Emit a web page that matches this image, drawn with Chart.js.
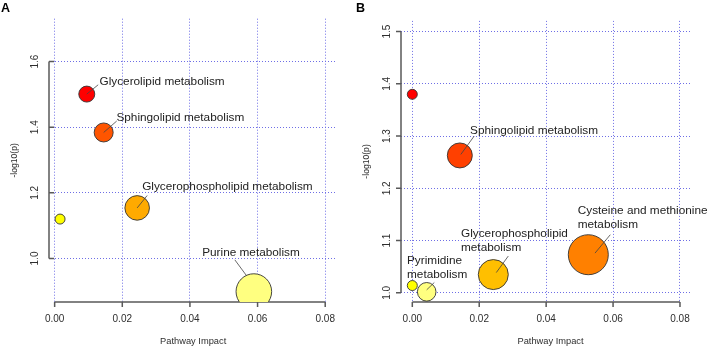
<!DOCTYPE html>
<html><head><meta charset="utf-8">
<script src="https://cdn.jsdelivr.net/npm/chart.js@4/dist/chart.umd.min.js"></script>
<style>
html,body{margin:0;padding:0;background:#fff;width:713px;height:351px;overflow:hidden}
.panel{position:absolute;top:0;height:351px}
#pa{left:0;width:355px}
#pb{left:355px;width:358px}
</style></head><body>
<div class="panel" id="pa"><canvas id="ca" width="355" height="351"></canvas></div>
<div class="panel" id="pb"><canvas id="cb" width="358" height="351"></canvas></div>
<script>
// ---------- Panel A data ----------
const pathwaysA = ["Glycerolipid metabolism", "Sphingolipid metabolism", "Glycerophospholipid metabolism", "", "Purine metabolism"];
const impactA   = [0.0095, 0.0145, 0.0244, 0.0016, 0.0589];
const logpA     = [1.501, 1.384, 1.154, 1.120, 0.899];
const bubbleSizeA = [8, 9.5, 12.3, 5, 17.8];
const xTicksA = [0.00, 0.02, 0.04, 0.06, 0.08];
const yTicksA = [1.0, 1.2, 1.4, 1.6];

// ---------- Panel B data ----------
const pathwaysB = ["", "Sphingolipid metabolism", "Glycerophospholipid\nmetabolism", "Cysteine and methionine\nmetabolism", "", "Pyrimidine\nmetabolism"];
const impactB   = [0.0000, 0.0142, 0.0242, 0.0526, 0.0000, 0.0043];
const logpB     = [1.380, 1.263, 1.035, 1.073, 1.014, 1.002];
const bubbleSizeB = [5, 12.5, 15, 20, 5, 9.3];
const xTicksB = [0.00, 0.02, 0.04, 0.06, 0.08];
const yTicksB = [1.0, 1.1, 1.2, 1.3, 1.4, 1.5];

// ---------- styles / layout ----------
const heatA = ["#FF0000", "#FF5500", "#FFAA00", "#FFFF00", "#FFFF80"];
const heatB = ["#FF0000", "#FF4000", "#FFBF00", "#FF8000", "#FFFF00", "#FFFF80"];
const FONT = "'Liberation Sans', Arial, sans-serif";

const panelA = {
  letter: "A", xRange: [-0.00167, 0.08328], yRange: [0.8672, 1.7308],
  pad: {left: 49, right: 16, top: 13, bottom: 49},
  yTickInward: true, xTitleShift: 0.5,
  labels: {
    0: {dx: 12.7, dy: -12.6, lead: [0, 0, 11.4, -9.3]},
    1: {dx: 12.7, dy: -14.7, lead: [0, 0, 13, -11.4]},
    2: {dx: 5, dy: -21.4, lead: [0, 0, 10, -12.4]},
    4: {dx: -51.7, dy: -38.7, lead: [-7.4, -16, -19, -31.7]}
  }
};
const panelB = {
  letter: "B", xRange: [-0.00338, 0.08359], yRange: [0.9825, 1.5205],
  pad: {left: 46, right: 21, top: 13, bottom: 49},
  yTickInward: false, xTitleShift: 4,
  labels: {
    1: {dx: 10.3, dy: -25, lead: [1, -1, 14.3, -19.3]},
    2: {dx: -32.3, dy: -41, lead: [3, -2, 15, -18.5]},
    3: {dx: -10.6, dy: -44.3, lead: [6.7, -1.6, 22, -20]},
    5: {dx: -19.7, dy: -31, lead: [0, -2, 7.6, -9.3]}
  }
};

function rAxesPlugin(panel, names, xTicks, yTicks) {
  return {
    id: 'raxes',
    beforeDatasetsDraw(chart) {
      const ctx = chart.ctx, xs = chart.scales.x, ys = chart.scales.y, a = chart.chartArea;
      ctx.save();
      ctx.strokeStyle = '#595959';
      ctx.lineWidth = 1.5;
      // x axis line + ticks
      const x0 = xs.getPixelForValue(xTicks[0]), x1 = xs.getPixelForValue(xTicks[xTicks.length - 1]);
      ctx.beginPath();
      ctx.moveTo(x0, a.bottom); ctx.lineTo(x1, a.bottom);
      xTicks.forEach(v => { const p = xs.getPixelForValue(v); ctx.moveTo(p, a.bottom); ctx.lineTo(p, a.bottom + 5); });
      ctx.stroke();
      // y axis line + ticks
      const y0 = ys.getPixelForValue(yTicks[0]), y1 = ys.getPixelForValue(yTicks[yTicks.length - 1]);
      ctx.beginPath();
      ctx.moveTo(a.left, y0); ctx.lineTo(a.left, y1);
      const tl = panel.yTickInward ? 5 : -5;
      yTicks.forEach(v => { const p = ys.getPixelForValue(v); ctx.moveTo(a.left, p); ctx.lineTo(a.left + tl, p); });
      ctx.stroke();
      // tick labels
      ctx.fillStyle = '#2e2e2e';
      ctx.font = '10px ' + FONT;
      ctx.textAlign = 'center'; ctx.textBaseline = 'middle';
      xTicks.forEach(v => ctx.fillText(v.toFixed(2), xs.getPixelForValue(v), a.bottom + 17.5));
      yTicks.forEach(v => {
        ctx.save();
        ctx.translate(a.left - 13.5, ys.getPixelForValue(v));
        ctx.rotate(-Math.PI / 2);
        ctx.fillText(v.toFixed(1), 0, 0);
        ctx.restore();
      });
      // axis titles
      ctx.font = '9.3px ' + FONT;
      ctx.fillText('Pathway Impact', (a.left + a.right) / 2 + panel.xTitleShift, a.bottom + 39);
      ctx.save();
      ctx.translate(a.left - 34, (a.top + a.bottom) / 2);
      ctx.rotate(-Math.PI / 2);
      ctx.font = '8.6px ' + FONT;
      ctx.fillText('-log10(p)', 0, 0);
      ctx.restore();
      ctx.restore();
    },
    afterDatasetsDraw(chart) {
      const ctx = chart.ctx, meta = chart.getDatasetMeta(0);
      ctx.save();
      Object.keys(panel.labels).forEach(k => {
        const i = +k, L = panel.labels[k], el = meta.data[i];
        const cx = el.x, cy = el.y;
        ctx.strokeStyle = '#444'; ctx.lineWidth = 0.8;
        ctx.beginPath();
        ctx.moveTo(cx + L.lead[0], cy + L.lead[1]);
        ctx.lineTo(cx + L.lead[2], cy + L.lead[3]);
        ctx.stroke();
        ctx.fillStyle = '#222';
        ctx.font = '11.8px ' + FONT;
        ctx.textAlign = 'left'; ctx.textBaseline = 'middle';
        names[i].split('\n').forEach((s, j) => ctx.fillText(s, cx + L.dx, cy + L.dy + j * 14.4));
      });
      ctx.fillStyle = '#000';
      ctx.font = 'bold 12.5px ' + FONT;
      ctx.textAlign = 'left'; ctx.textBaseline = 'top';
      ctx.fillText(panel.letter, 1, 2);
      ctx.restore();
    }
  };
}

function makeChart(id, panel, xs, ys, rs, names, colors, xTicks, yTicks) {
  const gridOpts = {color: '#6e6ee6', lineWidth: 1, drawTicks: false};
  return new Chart(document.getElementById(id), {
    type: 'bubble',
    data: {
      datasets: [{
        data: xs.map((v, i) => ({x: v, y: ys[i], r: rs[i]})),
        backgroundColor: colors,
        borderColor: '#333',
        borderWidth: 0.9,
        hoverRadius: 0
      }]
    },
    options: {
      responsive: false, animation: false, events: [], devicePixelRatio: 1,
      layout: {padding: panel.pad},
      plugins: {legend: {display: false}, tooltip: {enabled: false}},
      scales: {
        x: {
          type: 'linear', min: panel.xRange[0], max: panel.xRange[1],
          afterBuildTicks: s => { s.ticks = xTicks.map(v => ({value: v})); },
          ticks: {display: false}, grid: gridOpts,
          border: {display: false, dash: [1, 2]}
        },
        y: {
          type: 'linear', min: panel.yRange[0], max: panel.yRange[1],
          afterBuildTicks: s => { s.ticks = yTicks.map(v => ({value: v})); },
          ticks: {display: false}, grid: gridOpts,
          border: {display: false, dash: [1, 2]}
        }
      }
    },
    plugins: [rAxesPlugin(panel, names, xTicks, yTicks)]
  });
}

makeChart('ca', panelA, impactA, logpA, bubbleSizeA, pathwaysA, heatA, xTicksA, yTicksA);
makeChart('cb', panelB, impactB, logpB, bubbleSizeB, pathwaysB, heatB, xTicksB, yTicksB);
</script>
</body></html>
